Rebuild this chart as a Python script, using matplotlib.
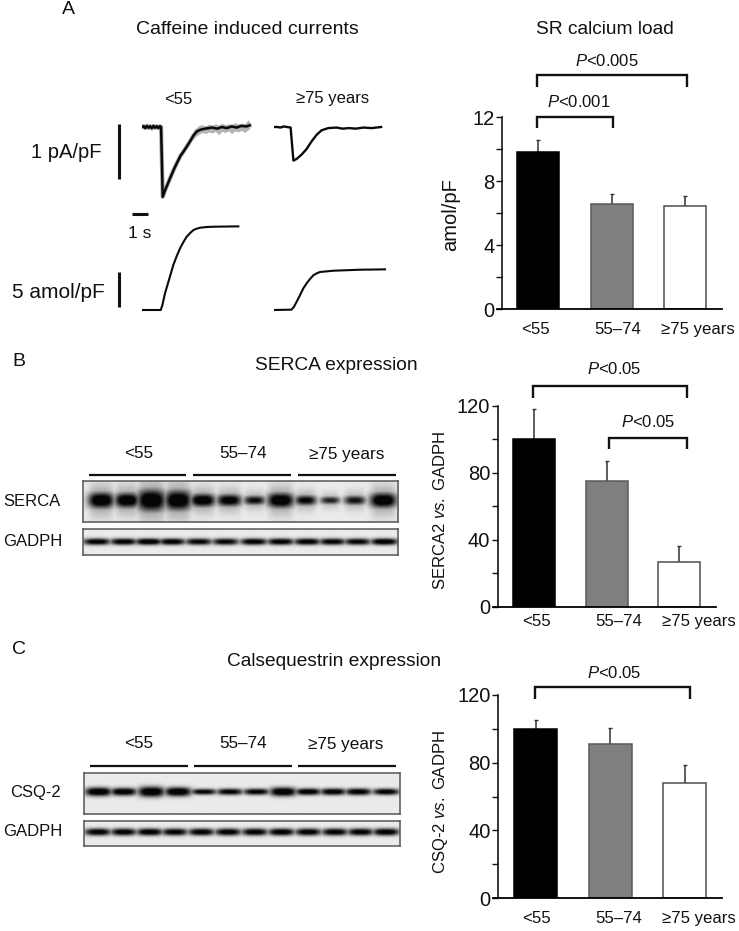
import numpy as np
import matplotlib
matplotlib.use("Agg")
import matplotlib.pyplot as plt

plt.rcParams['font.family'] = ['Liberation Sans', 'DejaVu Sans']
plt.rcParams['mathtext.fontset'] = 'custom'
plt.rcParams['mathtext.rm'] = 'Liberation Sans'
plt.rcParams['mathtext.it'] = 'Liberation Sans:italic'
plt.rcParams['mathtext.default'] = 'regular'

W, H = 739, 931
groups = ['<55', '55–74', '≥75 years']
bar_colors = ['#000000', '#7f7f7f', '#ffffff']
edge_colors = ['#000000', '#5a5a5a', '#4d4d4d']

sr_load = [9.8, 6.6, 6.45]
sr_load_err = [0.75, 0.6, 0.6]
serca = [100, 75, 26.5]
serca_err = [18, 12, 10]
csq = [100, 91, 68]
csq_err = [5, 9.5, 10.5]

# caffeine current traces (s, pA/pF)
cur_young_t = [0, .1, .2, .3, .4, .5, .6, .7, .8, .9, 1.0, 1.1, 1.17, 1.27, 1.43, 1.64, 1.94, 2.15, 2.35, 2.56,
               2.76, 2.97, 3.17, 3.37, 3.58, 3.88, 4.1, 4.3, 4.6, 4.9, 5.2, 5.5, 5.8, 6.1, 6.4, 6.6]
cur_young_v = [0, .015, -.02, .02, -.015, .015, -.025, .02, -.015, .015, -.02, .015, 0, -1.27, -1.14, -.99, -.78,
               -.65, -.53, -.44, -.35, -.25, -.15, -.08, -.05, -.03, -.02, -.01, -.03, 0, -.02, .01, -.01, .02, .01, .03]
# grey spread around the young trace
spread_t = [3.1, 3.3, 3.5, 3.7, 3.9, 4.1, 4.3, 4.5, 4.7, 4.9, 5.1, 5.3, 5.5, 5.7, 5.9, 6.1, 6.3, 6.5, 6.6]
spread_hi = [-.08, -.02, .03, .04, .02, .05, .03, .06, .03, .07, .04, .06, .03, .08, .05, .07, .06, .13, .09]
spread_lo = [-.24, -.17, -.13, -.1, -.12, -.09, -.11, -.08, -.14, -.08, -.1, -.07, -.12, -.07, -.09, -.06, -.1, -.05, -.04]
cur_old_t = [0, .2, .4, .6, .8, 1.02, 1.19, 1.39, 1.7, 2.0, 2.31, 2.62, 2.92, 3.33, 3.84, 4.2, 4.6, 5.0, 5.5, 6.0, 6.57]
cur_old_v = [0, .0, -.01, .01, 0, -.01, -.61, -.58, -.5, -.4, -.26, -.14, -.06, -.02, -.01, -.03, -.02, -.03, -.01, -.02, 0]

# integrated calcium traces (s, amol/pF)
ca_young_t = [0, 1.17, 1.27, 1.43, 1.64, 1.94, 2.15, 2.35, 2.56, 2.76, 2.97, 3.17, 3.37, 3.58, 3.99, 4.4, 5.93]
ca_young_v = [0, 0, .7, 2.34, 3.97, 6.31, 7.57, 8.64, 9.53, 10.28, 10.79, 11.21, 11.4, 11.54, 11.64, 11.68, 11.73]
ca_old_t = [0, 1.08, 1.23, 1.39, 1.6, 1.8, 2.0, 2.21, 2.41, 2.62, 2.82, 3.23, 3.64, 5.28, 6.81]
ca_old_v = [0, .05, .47, 1.17, 2.1, 3.04, 3.74, 4.35, 4.86, 5.14, 5.33, 5.42, 5.51, 5.65, 5.7]

# blot lanes: relative band strength, half width and half height
serca_strength = [1.0, .98, 1.0, 1.0, .98, .92, .8, .99, .85, .72, .78, .99]
serca_hw = [13, 12.5, 14.5, 13.5, 12.5, 12.5, 11, 13.5, 11, 10, 11, 13.5]
serca_hh = [8, 7.5, 11, 10, 6.5, 6, 4.6, 7.5, 5, 3.8, 4.6, 7.5]
gadph1_strength = [.9, .9, .95, .9, .85, .85, .9, .9, .9, .87, .85, .95]
csq_strength = [1.0, .95, 1.0, 1.0, .85, .88, .88, 1.0, .92, .92, .92, .9]
csq_hh = [4.2, 3.8, 5.0, 4.4, 2.9, 3.1, 3.1, 4.3, 3.3, 3.3, 3.3, 3.1]
gadph2_strength = [.9, .9, .93, .88, .9, .9, .9, .93, .9, .9, .9, .93]


fig = plt.figure(figsize=(W / 100, H / 100), dpi=100, facecolor='white')


def rect(l, t, r, b):
    return [l / W, 1 - b / H, (r - l) / W, (b - t) / H]


ov = fig.add_axes([0, 0, 1, 1], zorder=5)
ov.set_xlim(0, W)
ov.set_ylim(H, 0)
ov.axis('off')
ov.patch.set_alpha(0)


def txt(x, y, s, size=12, ha='center', **kw):
    ov.text(x, y, s, fontsize=size, ha=ha, va='center', color='#111111', **kw)


def seg(xs, ys, lw=2.0, color='#111111'):
    ov.plot(xs, ys, color=color, lw=lw, solid_capstyle='butt', solid_joinstyle='miter')


def bracket(x0, x1, top, bottom):
    seg([x0, x0, x1, x1], [bottom, top, top, bottom], lw=1.7)


def bar_panel(l, t, r, b, centre0, spacing, values, errs, ymax, major, label, offs, width, lab_x, lab_y, lab_size, label_bottom):
    ax = fig.add_axes(rect(l, t, r, b), zorder=2)
    ax.set_xlim((l - centre0) / spacing, (r - centre0) / spacing)
    ax.set_ylim(0, ymax)
    pos = np.arange(len(values))
    ax.bar(pos, values, width=width / spacing, color=bar_colors, edgecolor=edge_colors, linewidth=1.1, zorder=3)
    ax.errorbar(pos, values, yerr=[np.zeros(len(errs)), errs], fmt='none', ecolor='#333333',
                elinewidth=1.1, capsize=1.2, capthick=1.0, zorder=2)
    for s in ('top', 'right'):
        ax.spines[s].set_visible(False)
    ax.spines['left'].set_linewidth(1.1)
    ax.spines['bottom'].set_linewidth(1.3)
    ax.spines['bottom'].set_bounds((l - 5 - centre0) / spacing, (r - centre0) / spacing)
    ax.spines['bottom'].set_zorder(6)
    ax.set_yticks(np.arange(0, ymax + 1, major))
    ax.set_yticklabels([str(v) if i % 2 == 0 else '' for i, v in enumerate(range(0, ymax + 1, major))], fontsize=14.5)
    ax.tick_params(axis='y', length=4.5, width=1.0, pad=1, colors='#111111')
    ax.set_xticks(pos + np.array(offs))
    ax.set_xticklabels(groups, fontsize=12.1, color='#111111')
    ax.tick_params(axis='x', length=0, pad=label_bottom)
    txt(lab_x, lab_y, label, size=lab_size, rotation=90)
    return ax


bar_panel(502.3, 117.3, 721.7, 309.3, 538, 73.5, sr_load, sr_load_err, 12, 2, 'amol/pF',
          [-.03, .08, .17], 42, 451, 215, 14.5, 9.5)
bar_panel(497.7, 405.7, 715.7, 606.7, 534, 72.7, serca, serca_err, 120, 20, r'SERCA2 $\mathit{vs.}$ GADPH',
          [.04, .16, .27], 42, 440, 510, 12, 5)
bar_panel(498.3, 695, 721.7, 898, 535.7, 74.5, csq, csq_err, 120, 20, r'CSQ-2 $\mathit{vs.}$ GADPH',
          [.01, .11, .19], 43, 440, 802, 12, 9.5)

# brackets and significance labels
bracket(537.3, 686.7, 75, 87)
bracket(537.3, 612.7, 117, 128)
txt(607, 61.5, r'$\mathit{P}$<0.005', size=12)
txt(579, 102, r'$\mathit{P}$<0.001', size=12)
bracket(533.3, 687.3, 386, 398)
bracket(608.7, 687.3, 437.7, 449.3)
txt(614, 369, r'$\mathit{P}$<0.05', size=12)
txt(648, 421.7, r'$\mathit{P}$<0.05', size=12)
bracket(535.3, 689.7, 687.3, 699.3)
txt(614, 672.5, r'$\mathit{P}$<0.05', size=12)

# titles
txt(68, 10, 'A', size=14)
txt(19, 362, 'B', size=14)
txt(19, 650, 'C', size=14)
txt(247, 29, 'Caffeine induced currents', size=14)
txt(605, 29, 'SR calcium load', size=13.8)
txt(336, 366, 'SERCA expression', size=13.8)
txt(334, 662, 'Calsequestrin expression', size=13.8)

# panel A traces
PX_S = 16.3


def trace_ax(l, ybase, px_unit, up, down, t_max=7.2):
    ax = fig.add_axes(rect(l, ybase - up * px_unit, l + t_max * PX_S, ybase + down * px_unit), zorder=3)
    ax.set_xlim(0, t_max)
    ax.set_ylim(-down, up)
    ax.axis('off')
    return ax


a = trace_ax(142, 127, 55, .25, 1.45)
a.fill_between(spread_t, spread_lo, spread_hi, color='#b5b5b5', lw=0)
a.plot(cur_young_t, cur_young_v, color='#a8a8a8', lw=3.0, solid_joinstyle='round')
a.plot(cur_young_t, cur_young_v, color='#0a0a0a', lw=1.8, solid_joinstyle='round')
a = trace_ax(274, 127, 55, .25, 1.45)
a.plot(cur_old_t, cur_old_v, color='#0a0a0a', lw=1.7, solid_joinstyle='round')
a = trace_ax(141.7, 310, 7.13, 13, 1)
a.plot(ca_young_t, ca_young_v, color='#0a0a0a', lw=1.5)
a = trace_ax(274, 310, 7.13, 13, 1)
a.plot(ca_old_t, ca_old_v, color='#0a0a0a', lw=1.5)

seg([118.7, 118.7], [124, 178.7], lw=2.2)
seg([118.7, 118.7], [271.7, 307], lw=2.2)
seg([132.3, 148.3], [214.3, 214.3], lw=2.2)
txt(66, 152, '1 pA/pF', size=14.5)
txt(58.5, 292, '5 amol/pF', size=15)
txt(140, 234, '1 s', size=12.5)
txt(178, 99, '<55', size=12)
txt(332.5, 99, '≥75 years', size=12)


def blot(l, t, r, b, lanes, band_y, strengths, hw, hh, smear=0.0, bg=0.9):
    scale = 3
    ny, nx = int((b - t) * scale), int((r - l) * scale)
    yy, xx = np.mgrid[0:ny, 0:nx]
    px = l + (xx + .5) / scale
    py = t + (yy + .5) / scale
    dark = np.zeros((ny, nx))
    for c, s, w, h in zip(lanes, strengths, hw, hh):
        core = np.exp(-(np.abs(px - c) / w) ** 3.0) * np.exp(-(np.abs(py - band_y) / h) ** 2.2)
        dark = np.maximum(dark, s * core)
        if smear:
            halo = smear * s * np.exp(-((px - c) / (w * .95)) ** 4) * np.exp(-((py - band_y) / (h * 1.9)) ** 2)
            dark = np.maximum(dark, halo)
    img = bg * (1 - np.clip(dark * 1.25, 0, 1)) + 0.02
    ax = fig.add_axes(rect(l, t, r, b), zorder=1)
    ax.imshow(img, cmap='gray', vmin=0, vmax=1, aspect='auto', interpolation='bilinear')
    ax.set_xticks([])
    ax.set_yticks([])
    for s in ax.spines.values():
        s.set_color('#555555')
        s.set_linewidth(1.1)


z = lambda vals, o=0: [v / 3 + o for v in vals]
blot(82.7, 480.7, 398.3, 522.3, z([303, 380, 453, 533, 607, 686, 762, 840, 915, 988, 1062, 1147]), 500.7,
     serca_strength, serca_hw, serca_hh, smear=.3)
blot(82.7, 529, 398.3, 555, z([290, 370, 445, 515, 595, 675, 760, 840, 920, 995, 1070, 1150]), 541.7,
     gadph1_strength, [14] * 12, [3.3] * 12)
blot(84.3, 772.7, 400, 814, z([297, 372, 455, 535, 612, 690, 770, 850, 925, 1000, 1075, 1158]), 792,
     csq_strength, [13.5] * 12, csq_hh)
blot(84.3, 820.7, 400, 845.7, z([295, 372, 450, 525, 605, 685, 765, 845, 925, 1005, 1082, 1158]), 831.7,
     gadph2_strength, [13.5] * 12, [3.6] * 12)

for xs in [(89, 186), (193, 291), (298, 396)]:
    seg(xs, [474.5, 474.5], lw=1.6)
for xs in [(90, 188), (194, 292), (298, 396)]:
    seg(xs, [765.7, 765.7], lw=1.6)
for x, s in zip([139, 243, 347], groups):
    txt(x, 454, s, size=12.3)
for x, s in zip([139, 243, 346], groups):
    txt(x, 744, s, size=12.3)

txt(3, 501, 'SERCA', size=12, ha='left')
txt(3, 542, 'GADPH', size=12, ha='left')
txt(10, 792, 'CSQ-2', size=12, ha='left')
txt(3, 831.5, 'GADPH', size=12, ha='left')

fig.savefig('out.png', dpi=100)
